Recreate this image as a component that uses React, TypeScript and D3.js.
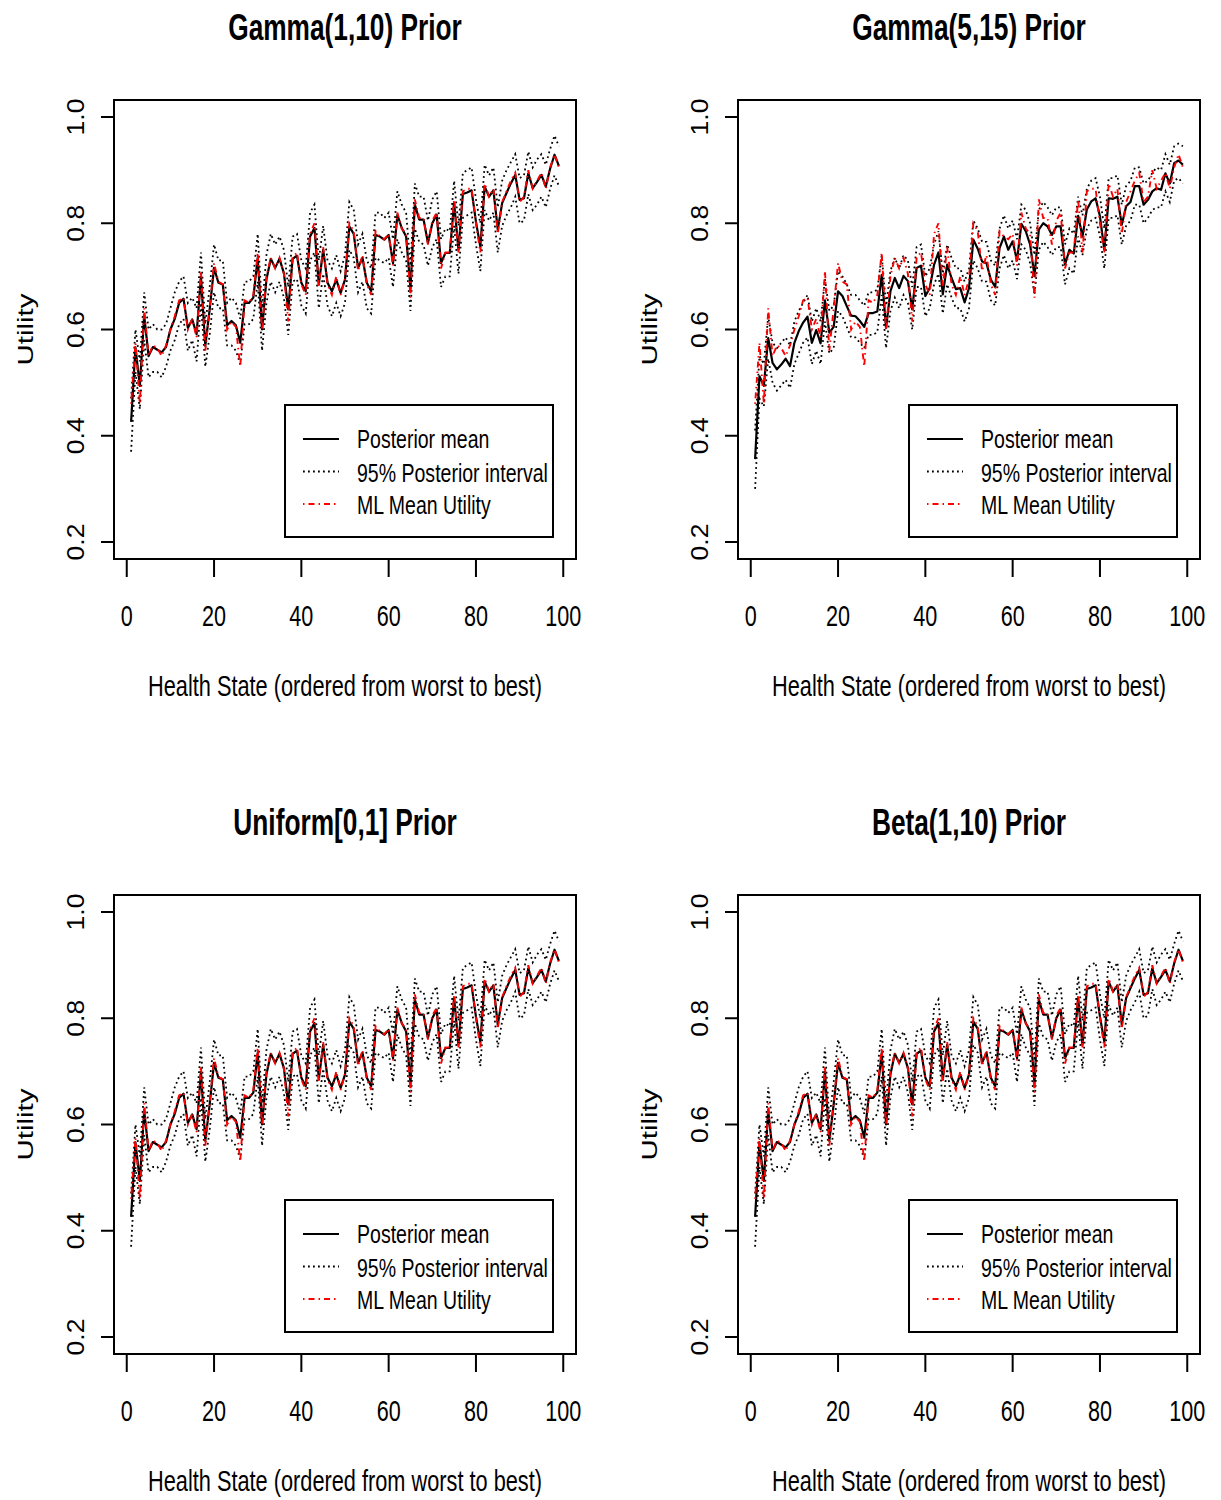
import React from 'react';
import * as d3 from 'd3';

// ---------- data ----------
const healthStates = d3.range(1, 100);
const xTickValues = [0, 20, 40, 60, 80, 100];
const yTickValues = [0.2, 0.4, 0.6, 0.8, 1.0];
const legendLabels = ['Posterior mean', '95% Posterior interval', 'ML Mean Utility'];
const panelTitles = ['Gamma(1,10) Prior', 'Gamma(5,15) Prior', 'Uniform[0,1] Prior', 'Beta(1,10) Prior'];
const xAxisLabel = 'Health State (ordered from worst to best)';
const yAxisLabel = 'Utility';

const mlMeanUtility = [
  0.46, 0.575, 0.46, 0.64, 0.55, 0.57, 0.565, 0.55, 0.57, 0.60,
  0.625, 0.655, 0.66, 0.60, 0.62, 0.585, 0.71, 0.56, 0.64, 0.725,
  0.69, 0.685, 0.60, 0.615, 0.605, 0.53, 0.655, 0.65, 0.665, 0.745,
  0.598, 0.70, 0.735, 0.715, 0.735, 0.705, 0.615, 0.735, 0.745, 0.685,
  0.665, 0.78, 0.80, 0.68, 0.755, 0.685, 0.665, 0.70, 0.665, 0.695,
  0.80, 0.785, 0.71, 0.74, 0.685, 0.665, 0.785, 0.775, 0.77, 0.78,
  0.72, 0.82, 0.79, 0.78, 0.66, 0.845, 0.81, 0.81, 0.76, 0.805,
  0.82, 0.715, 0.745, 0.745, 0.845, 0.745, 0.86, 0.865, 0.865, 0.80,
  0.745, 0.875, 0.85, 0.865, 0.78, 0.84, 0.86, 0.88, 0.895, 0.84,
  0.85, 0.90, 0.865, 0.88, 0.895, 0.865, 0.905, 0.93, 0.905,
];

const meanGamma110 = [
  0.426, 0.566, 0.494, 0.626, 0.550, 0.567, 0.562, 0.557, 0.567, 0.600,
  0.620, 0.650, 0.658, 0.603, 0.619, 0.591, 0.699, 0.569, 0.638, 0.716,
  0.688, 0.685, 0.608, 0.616, 0.608, 0.575, 0.650, 0.650, 0.660, 0.735,
  0.600, 0.694, 0.733, 0.716, 0.733, 0.706, 0.638, 0.733, 0.739, 0.688,
  0.672, 0.775, 0.791, 0.685, 0.750, 0.688, 0.672, 0.694, 0.669, 0.694,
  0.794, 0.780, 0.716, 0.735, 0.688, 0.672, 0.778, 0.775, 0.769, 0.778,
  0.725, 0.816, 0.791, 0.775, 0.678, 0.835, 0.807, 0.807, 0.763, 0.800,
  0.816, 0.725, 0.744, 0.744, 0.838, 0.750, 0.855, 0.858, 0.862, 0.803,
  0.756, 0.869, 0.850, 0.862, 0.788, 0.838, 0.857, 0.875, 0.891, 0.844,
  0.847, 0.894, 0.866, 0.878, 0.891, 0.869, 0.903, 0.929, 0.908,
];
const lowerGamma110 = [
  0.37, 0.52, 0.45, 0.58, 0.51, 0.52, 0.52, 0.51, 0.53, 0.56,
  0.58, 0.61, 0.62, 0.56, 0.58, 0.54, 0.65, 0.53, 0.59, 0.67,
  0.64, 0.64, 0.57, 0.57, 0.56, 0.535, 0.61, 0.61, 0.62, 0.69,
  0.56, 0.65, 0.69, 0.67, 0.69, 0.66, 0.59, 0.69, 0.695, 0.645,
  0.63, 0.73, 0.745, 0.64, 0.705, 0.645, 0.625, 0.65, 0.625, 0.65,
  0.75, 0.735, 0.67, 0.69, 0.64, 0.63, 0.735, 0.73, 0.725, 0.735,
  0.68, 0.77, 0.745, 0.73, 0.635, 0.79, 0.765, 0.76, 0.72, 0.755,
  0.77, 0.68, 0.70, 0.70, 0.795, 0.705, 0.81, 0.815, 0.82, 0.76,
  0.71, 0.825, 0.805, 0.82, 0.745, 0.795, 0.815, 0.83, 0.85, 0.80,
  0.805, 0.855, 0.825, 0.835, 0.85, 0.83, 0.865, 0.89, 0.87,
];
const upperGamma110 = [
  0.47, 0.60, 0.54, 0.67, 0.60, 0.61, 0.60, 0.60, 0.61, 0.64,
  0.67, 0.69, 0.70, 0.65, 0.66, 0.64, 0.745, 0.61, 0.68, 0.76,
  0.73, 0.73, 0.65, 0.66, 0.65, 0.62, 0.69, 0.69, 0.70, 0.78,
  0.64, 0.74, 0.78, 0.76, 0.775, 0.75, 0.68, 0.775, 0.78, 0.73,
  0.715, 0.82, 0.835, 0.73, 0.795, 0.73, 0.715, 0.74, 0.71, 0.74,
  0.84, 0.825, 0.76, 0.78, 0.73, 0.715, 0.82, 0.82, 0.81, 0.82,
  0.77, 0.86, 0.835, 0.82, 0.72, 0.875, 0.85, 0.85, 0.805, 0.845,
  0.86, 0.77, 0.79, 0.785, 0.88, 0.795, 0.895, 0.90, 0.905, 0.845,
  0.80, 0.91, 0.89, 0.905, 0.83, 0.88, 0.90, 0.915, 0.93, 0.885,
  0.89, 0.935, 0.905, 0.92, 0.93, 0.91, 0.94, 0.965, 0.945,
];

const meanGamma515 = [
  0.356, 0.512, 0.494, 0.584, 0.537, 0.525, 0.534, 0.545, 0.531, 0.575,
  0.597, 0.613, 0.624, 0.575, 0.599, 0.574, 0.655, 0.594, 0.605, 0.672,
  0.663, 0.644, 0.626, 0.625, 0.616, 0.605, 0.631, 0.631, 0.634, 0.703,
  0.603, 0.672, 0.697, 0.678, 0.701, 0.691, 0.638, 0.716, 0.720, 0.663,
  0.678, 0.722, 0.745, 0.666, 0.722, 0.697, 0.676, 0.678, 0.651, 0.678,
  0.769, 0.752, 0.728, 0.725, 0.694, 0.680, 0.753, 0.775, 0.750, 0.766,
  0.730, 0.799, 0.785, 0.760, 0.701, 0.788, 0.800, 0.794, 0.778, 0.794,
  0.794, 0.722, 0.750, 0.743, 0.814, 0.775, 0.826, 0.841, 0.847, 0.813,
  0.750, 0.847, 0.846, 0.850, 0.797, 0.832, 0.840, 0.870, 0.870, 0.835,
  0.844, 0.860, 0.866, 0.863, 0.894, 0.875, 0.913, 0.918, 0.910,
];
const lowerGamma515 = [
  0.30, 0.47, 0.455, 0.545, 0.50, 0.485, 0.495, 0.505, 0.49, 0.535,
  0.555, 0.575, 0.585, 0.535, 0.56, 0.535, 0.615, 0.555, 0.565, 0.635,
  0.625, 0.605, 0.585, 0.585, 0.575, 0.565, 0.59, 0.59, 0.595, 0.665,
  0.565, 0.635, 0.66, 0.64, 0.665, 0.65, 0.60, 0.68, 0.68, 0.625,
  0.64, 0.685, 0.705, 0.63, 0.685, 0.66, 0.64, 0.64, 0.615, 0.64,
  0.73, 0.715, 0.69, 0.69, 0.655, 0.645, 0.715, 0.74, 0.715, 0.73,
  0.695, 0.76, 0.75, 0.725, 0.665, 0.75, 0.765, 0.755, 0.74, 0.755,
  0.755, 0.685, 0.715, 0.705, 0.775, 0.74, 0.79, 0.805, 0.81, 0.775,
  0.715, 0.81, 0.81, 0.815, 0.76, 0.795, 0.805, 0.835, 0.835, 0.80,
  0.81, 0.825, 0.83, 0.83, 0.86, 0.84, 0.88, 0.885, 0.875,
];
const upperGamma515 = [
  0.41, 0.55, 0.535, 0.625, 0.575, 0.565, 0.575, 0.585, 0.57, 0.615,
  0.635, 0.65, 0.665, 0.615, 0.64, 0.615, 0.695, 0.635, 0.645, 0.71,
  0.70, 0.685, 0.665, 0.665, 0.655, 0.645, 0.67, 0.67, 0.675, 0.74,
  0.645, 0.71, 0.735, 0.715, 0.74, 0.73, 0.68, 0.755, 0.76, 0.70,
  0.715, 0.76, 0.785, 0.705, 0.76, 0.735, 0.715, 0.715, 0.69, 0.715,
  0.805, 0.79, 0.765, 0.765, 0.73, 0.72, 0.79, 0.815, 0.79, 0.805,
  0.77, 0.835, 0.825, 0.80, 0.74, 0.825, 0.84, 0.83, 0.815, 0.83,
  0.83, 0.76, 0.79, 0.78, 0.85, 0.815, 0.865, 0.88, 0.885, 0.85,
  0.79, 0.885, 0.885, 0.89, 0.835, 0.87, 0.88, 0.905, 0.905, 0.875,
  0.88, 0.895, 0.905, 0.90, 0.93, 0.91, 0.945, 0.95, 0.945,
];

// ---------- layout ----------
const W = 1221;
const H = 1500;
const BOX = { left: 114, right: 576, top: 100, bottom: 559 };
const FONT = "'Liberation Sans', Arial, Helvetica, sans-serif";
const RED_DASH = '1.5 4 6 4';
const DOT_DASH = '1.8 3.2';

const panels = [
  { title: panelTitles[0], mean: meanGamma110, lower: lowerGamma110, upper: upperGamma110, dx: 0, dy: 0 },
  { title: panelTitles[1], mean: meanGamma515, lower: lowerGamma515, upper: upperGamma515, dx: 624, dy: 0 },
  { title: panelTitles[2], mean: meanGamma110, lower: lowerGamma110, upper: upperGamma110, dx: 0, dy: 795 },
  { title: panelTitles[3], mean: meanGamma110, lower: lowerGamma110, upper: upperGamma110, dx: 624, dy: 795 },
];

type TxtProps = {
  x: number; y: number; size: number; sx: number;
  anchor?: string; weight?: string | number; rotate?: number; children: React.ReactNode;
};
function Txt({ x, y, size, sx, anchor = 'middle', weight = 'normal', rotate, children }: TxtProps) {
  const tr = `translate(${x},${y}) scale(${sx},1)` + (rotate ? ` rotate(${rotate})` : '');
  return (
    <text transform={tr} fontSize={size} fontFamily={FONT} fontWeight={weight} textAnchor={anchor} fill="#000">
      {children}
    </text>
  );
}

function Panel({ p }: { p: typeof panels[number] }) {
  const n = healthStates.length;
  const pad = 0.04 * (healthStates[n - 1] - healthStates[0]);
  const x = d3.scaleLinear().domain([healthStates[0] - pad, healthStates[n - 1] + pad]).range([BOX.left, BOX.right]);
  const y = d3.scaleLinear().domain([0.2 - 0.032, 1.0 + 0.032]).range([BOX.bottom, BOX.top]);
  const line = d3.line<number>().x((_, i) => x(healthStates[i])).y((d) => y(d));
  const cx = (BOX.left + BOX.right) / 2;
  const cy = (BOX.top + BOX.bottom) / 2;

  const leg = { x: 285, y: 405, w: 268, h: 132 };
  const rowsY = [439, 471.5, 504];
  const textBase = [448, 481.5, 513.5];

  return (
    <g transform={`translate(${p.dx},${p.dy})`}>
      <Txt x={cx} y={40} size={36} sx={0.73} weight="bold">{p.title}</Txt>

      <path d={line(p.lower) || ''} fill="none" stroke="#000" strokeWidth={1.8} strokeDasharray={DOT_DASH} />
      <path d={line(p.upper) || ''} fill="none" stroke="#000" strokeWidth={1.8} strokeDasharray={DOT_DASH} />
      <path d={line(p.mean) || ''} fill="none" stroke="#000" strokeWidth={2.2} strokeLinejoin="round" />
      <path d={line(mlMeanUtility) || ''} fill="none" stroke="#ff0000" strokeWidth={1.9} strokeDasharray={RED_DASH} />

      <rect x={BOX.left} y={BOX.top} width={BOX.right - BOX.left} height={BOX.bottom - BOX.top}
        fill="none" stroke="#000" strokeWidth={2} />

      <line x1={x(xTickValues[0])} x2={x(xTickValues[xTickValues.length - 1])} y1={BOX.bottom} y2={BOX.bottom} stroke="#000" strokeWidth={2} />
      {xTickValues.map((t) => (
        <g key={`xt${t}`}>
          <line x1={x(t)} x2={x(t)} y1={BOX.bottom} y2={BOX.bottom + 18} stroke="#000" strokeWidth={2} />
          <Txt x={x(t)} y={626} size={30} sx={0.72}>{String(t)}</Txt>
        </g>
      ))}
      <Txt x={cx} y={696} size={29} sx={0.75}>{xAxisLabel}</Txt>

      {yTickValues.map((t) => (
        <g key={`yt${t}`}>
          <line x1={BOX.left - 13} x2={BOX.left} y1={y(t)} y2={y(t)} stroke="#000" strokeWidth={2} />
          <Txt x={83.5} y={y(t)} size={26.5} sx={0.88} rotate={-90}>{t.toFixed(1)}</Txt>
        </g>
      ))}
      <Txt x={32.5} y={cy} size={29.5} sx={0.74} rotate={-90}>{yAxisLabel}</Txt>

      <rect x={leg.x} y={leg.y} width={leg.w} height={leg.h} fill="#fff" stroke="#000" strokeWidth={2} />
      <line x1={303} x2={339} y1={rowsY[0]} y2={rowsY[0]} stroke="#000" strokeWidth={2.2} />
      <line x1={303} x2={339} y1={rowsY[1]} y2={rowsY[1]} stroke="#000" strokeWidth={1.8} strokeDasharray={DOT_DASH} />
      <line x1={303} x2={339} y1={rowsY[2]} y2={rowsY[2]} stroke="#ff0000" strokeWidth={1.9} strokeDasharray={RED_DASH} />
      {legendLabels.map((l, i) => (
        <Txt key={l} x={357} y={textBase[i]} size={26.5} sx={0.737} anchor="start">{l}</Txt>
      ))}
    </g>
  );
}

export default function App() {
  return (
    <svg width={W} height={H} viewBox={`0 0 ${W} ${H}`}
      style={{ position: 'absolute', left: 0, top: 0, display: 'block', background: '#fff' }}>
      <rect x={0} y={0} width={W} height={H} fill="#fff" />
      {panels.map((p) => <Panel key={p.title} p={p} />)}
    </svg>
  );
}
